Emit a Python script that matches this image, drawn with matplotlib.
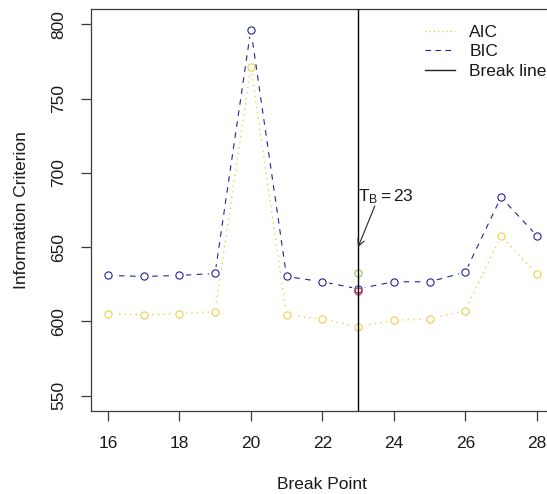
import matplotlib
matplotlib.use("Agg")
import matplotlib.pyplot as plt
import numpy as np

# ---- data ----
break_points = [16, 17, 18, 19, 20, 21, 22, 23, 24, 25, 26, 27, 28]
aic = [605.3, 604.4, 605.3, 606.6, 771.1, 604.4, 601.7, 596.5, 600.8, 601.7, 607.3, 657.6, 631.9]
bic = [631.0, 630.3, 631.0, 632.3, 796.4, 630.3, 626.7, 622.0, 626.7, 626.7, 633.2, 683.6, 657.8]
break_at = 23
extra_green = (23, 632.3)
extra_red = (23, 620.5)
x_ticks = [16, 18, 20, 22, 24, 26, 28]
y_ticks = [550, 600, 650, 700, 750, 800]
legend_labels = ["AIC", "BIC", "Break line"]

plt.rcParams['font.family'] = ['Liberation Sans', 'DejaVu Sans']
plt.rcParams['mathtext.fontset'] = 'custom'
plt.rcParams['mathtext.rm'] = 'Liberation Sans'
plt.rcParams['mathtext.it'] = 'Liberation Sans'

FS = 12.5
AIC_C = '#EDCF45'
BIC_C = '#22229A'
TXT = '#1a1a1a'
SP = '#3a3a3a'

fig = plt.figure(figsize=(5.47, 4.94), dpi=100)
ax = fig.add_axes([90.7/547, 1-410.7/494, (553.9-90.7)/547, (410.7-9.3)/494])

ms = 5.2
mew = 0.8
pad_ms = 8.5
# AIC
ax.plot(break_points, aic, linestyle=(0, (1, 3)), color=AIC_C, lw=1.0, zorder=2)
ax.plot(break_points, aic, linestyle='none', marker='o', ms=pad_ms, mfc='white', mec='white', zorder=3)
ax.plot(break_points, aic, linestyle='none', marker='o', ms=ms, mfc='none', mec=AIC_C, mew=mew, zorder=4)
# BIC
ax.plot(break_points, bic, linestyle=(0, (5, 5)), color=BIC_C, lw=0.8, zorder=5)
ax.plot(break_points, bic, linestyle='none', marker='o', ms=pad_ms, mfc='white', mec='white', zorder=6)
ax.plot(break_points, bic, linestyle='none', marker='o', ms=ms, mfc='none', mec=BIC_C, mew=mew, zorder=7)
# extra points
ax.plot([extra_green[0]], [extra_green[1]], linestyle='none', marker='o', ms=ms, mfc='none', mec='#9CC64A', mew=mew, zorder=8)
ax.plot([extra_red[0]], [extra_red[1]], linestyle='none', marker='o', ms=ms, mfc='none', mec='#D8304A', mew=mew, zorder=8)

ax.axvline(break_at, color='black', lw=1.0, zorder=9)

ax.annotate(r'$\mathregular{T_B = 23}$', xy=(break_at, 650), xytext=(break_at, 684),
            fontsize=FS, color=TXT, ha='left', va='center',
            arrowprops=dict(arrowstyle='->', color='#222222', lw=0.8,
                            shrinkA=0, shrinkB=0, mutation_scale=12,
                            patchA=None, relpos=(0.3, 0.0)), zorder=10)

ax.set_xlim(15.52, 28.48)
ax.set_ylim(540, 810)
ax.set_xticks(x_ticks)
ax.set_yticks(y_ticks)
ax.set_xticklabels([str(v) for v in x_ticks], fontsize=FS, color=TXT)
ax.set_yticklabels([str(v) for v in y_ticks], fontsize=FS, color=TXT, rotation=90, va='center')
ax.tick_params(axis='both', direction='out', length=7.2, width=0.9, color=SP)
ax.tick_params(axis='x', pad=11)
ax.tick_params(axis='y', pad=10.2)
for s in ax.spines.values():
    s.set_color(SP)
    s.set_linewidth(0.9)

ax.set_xlabel('Break Point', fontsize=FS, color=TXT, labelpad=18.5)
ax.set_ylabel('Information Criterion', fontsize=FS, color=TXT, labelpad=16)

from matplotlib.lines import Line2D
handles = [Line2D([], [], color=AIC_C, lw=1.0, linestyle=(0, (1, 2))),
           Line2D([], [], color=BIC_C, lw=0.8, linestyle=(0, (5, 4))),
           Line2D([], [], color='#222222', lw=1.0)]
fig.legend(handles, legend_labels, loc='upper left', bbox_to_anchor=(425/547, 1-24.5/494),
           frameon=False, fontsize=FS, handlelength=1.75, handletextpad=0.8,
           labelspacing=0.25, borderpad=0, borderaxespad=0, labelcolor=TXT)

fig.savefig('out.png', dpi=100)
